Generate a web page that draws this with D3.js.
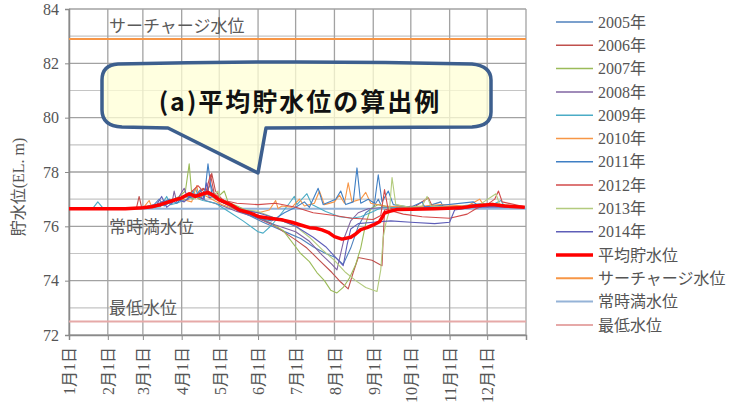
<!DOCTYPE html>
<html>
<head>
<meta charset="utf-8">
<script src="https://cdn.jsdelivr.net/npm/d3@7/dist/d3.min.js"></script>
<style>
  html, body { margin: 0; padding: 0; background: #fff; }
  svg { display: block; }
</style>
</head>
<body>
<svg id="chart" width="755" height="403"></svg>
<script>
// ---- data: daily reservoir level (EL. m), key readings per year ----
const years = ["2005年","2006年","2007年","2008年","2009年","2010年","2011年","2012年","2013年","2014年"];

const level2005 = [["1/1",76.65],["2/20",76.66],["3/3",76.72],["3/10",76.8],["3/14",77.0],["3/18",76.75],["3/25",76.95],["4/1",77.05],["4/5",76.95],["4/10",77.3],["4/14",77.05],["4/20",77.2],["4/24",77.55],["4/28",77.0],["5/5",76.85],["5/15",76.6],["5/25",76.4],["6/5",76.15],["6/15",75.95],["6/25",75.75],["7/5",75.55],["7/15",75.25],["7/25",75.0],["8/2",74.85],["8/8",74.6],["8/14",75.2],["8/20",76.0],["8/26",76.5],["9/1",76.7],["9/5",77.0],["9/8",76.7],["9/20",76.72],["10/10",76.68],["10/25",76.9],["10/27",76.7],["11/1",76.7],["11/20",76.72],["12/5",76.8],["12/15",76.72],["12/31",76.7]];
const level2006 = [["1/1",76.65],["2/20",76.65],["2/24",76.7],["2/26",77.1],["2/28",76.7],["3/10",76.72],["3/20",76.85],["3/28",77.0],["4/5",77.15],["4/12",77.05],["4/18",77.4],["4/22",77.3],["4/25",77.95],["4/28",77.3],["5/3",77.0],["5/10",76.8],["5/20",76.6],["6/1",76.3],["6/15",76.0],["7/1",75.5],["7/10",75.2],["7/20",74.75],["7/30",74.3],["8/6",73.95],["8/12",73.7],["8/16",74.3],["8/20",74.85],["8/26",74.8],["8/31",74.75],["9/8",74.55],["9/10",76.6],["9/20",76.7],["10/5",76.75],["10/15",77.05],["10/18",76.75],["11/10",76.7],["12/1",76.75],["12/31",76.7]];
const level2007 = [["1/1",76.65],["3/1",76.66],["3/12",76.75],["3/22",76.9],["3/30",77.1],["4/4",77.3],["4/7",78.3],["4/9",77.2],["4/15",77.0],["4/20",77.25],["4/28",77.0],["5/5",77.3],["5/8",76.9],["5/20",76.65],["6/1",76.35],["6/12",76.1],["6/21",75.85],["7/5",75.0],["7/12",74.7],["7/18",74.3],["7/24",74.0],["7/29",73.65],["8/3",73.55],["8/8",73.75],["8/13",74.1],["8/18",74.6],["8/22",75.2],["8/26",76.1],["8/30",76.65],["9/5",76.8],["9/15",76.7],["10/10",76.68],["11/15",76.72],["12/5",76.85],["12/31",76.7]];
const level2008 = [["1/1",76.65],["3/1",76.66],["3/10",76.75],["3/18",76.95],["3/24",76.8],["3/26",77.3],["3/28",76.9],["3/30",77.1],["4/3",77.4],["4/6",77.0],["4/14",77.15],["4/20",76.95],["5/1",76.8],["5/15",76.55],["6/1",76.3],["6/15",76.05],["7/1",75.8],["7/12",75.45],["7/22",74.95],["7/30",74.6],["8/3",74.4],["8/6",75.0],["8/9",75.6],["8/14",76.2],["8/20",76.5],["8/28",76.65],["9/10",76.7],["10/10",76.7],["11/10",76.68],["12/10",76.75],["12/31",76.7]];
const level2009 = [["1/1",76.65],["1/20",76.66],["1/24",76.9],["1/28",76.68],["3/1",76.65],["3/15",76.72],["3/20",77.1],["3/23",76.8],["3/28",76.85],["4/8",77.05],["4/12",77.4],["4/15",77.0],["4/18",76.95],["4/28",76.85],["5/10",76.5],["5/20",76.2],["6/1",75.8],["6/5",75.75],["6/12",76.05],["6/20",76.5],["6/26",76.85],["6/30",77.1],["7/2",76.8],["7/10",77.2],["7/14",76.8],["7/25",76.55],["8/5",76.35],["8/15",76.3],["8/22",76.35],["9/1",76.55],["9/8",76.7],["10/1",76.7],["11/1",76.7],["11/28",76.85],["12/2",76.72],["12/12",76.95],["12/15",76.72],["12/31",76.7]];
const level2010 = [["1/1",76.65],["3/1",76.66],["3/6",76.95],["3/8",76.72],["3/12",76.75],["3/22",76.9],["4/1",77.0],["4/9",76.9],["4/13",77.5],["4/15",77.0],["4/17",77.2],["4/25",77.0],["5/3",76.8],["5/15",76.6],["6/1",76.5],["6/10",76.6],["6/15",76.95],["6/17",76.65],["6/20",76.75],["6/28",76.7],["7/4",77.0],["7/8",76.75],["7/16",76.85],["7/20",77.3],["7/24",76.8],["8/1",76.9],["8/5",77.15],["8/9",76.85],["8/12",77.6],["8/15",76.9],["8/22",77.0],["8/26",77.25],["8/30",76.85],["9/10",76.75],["10/1",76.7],["10/25",76.8],["11/15",76.75],["11/25",77.0],["11/28",76.8],["12/3",76.85],["12/20",76.75],["12/31",76.7]];
const level2011 = [["1/1",76.65],["3/1",76.66],["3/14",76.8],["3/22",77.0],["3/28",76.85],["4/4",77.15],["4/10",77.0],["4/16",77.35],["4/19",77.0],["4/22",78.3],["4/25",77.2],["5/2",76.95],["5/15",76.6],["6/1",76.3],["6/12",76.2],["6/22",76.5],["7/1",76.7],["7/8",76.9],["7/12",76.7],["7/19",77.4],["7/23",76.8],["8/2",77.0],["8/6",77.3],["8/10",76.8],["8/16",76.9],["8/19",78.15],["8/22",76.85],["8/28",77.0],["9/2",76.85],["9/5",77.9],["9/8",76.9],["9/13",77.3],["9/17",76.8],["10/1",76.7],["10/10",76.9],["10/12",76.72],["10/20",76.75],["11/20",76.9],["11/24",76.75],["12/31",76.7]];
const level2012 = [["1/1",76.65],["3/1",76.66],["3/15",76.75],["3/26",76.95],["4/5",77.1],["4/14",77.5],["4/20",77.2],["4/24",77.9],["4/27",77.2],["5/5",76.95],["5/15",76.85],["6/1",76.8],["6/15",76.85],["7/1",76.7],["7/15",76.5],["8/1",76.4],["8/15",76.3],["9/1",76.25],["9/7",76.4],["9/10",77.35],["9/13",76.6],["9/25",76.45],["10/10",76.35],["11/1",76.3],["11/15",76.45],["11/22",76.65],["12/1",76.8],["12/7",77.0],["12/10",77.3],["12/13",76.9],["12/31",76.72]];
const level2013 = [["1/1",76.65],["3/1",76.66],["3/15",76.8],["3/25",76.95],["4/2",77.1],["4/10",77.0],["4/18",77.2],["4/26",77.1],["4/30",77.3],["5/2",76.95],["5/15",76.65],["6/1",76.55],["6/15",76.3],["7/1",76.0],["7/12",75.6],["7/22",75.15],["8/1",74.75],["8/10",74.3],["8/18",74.0],["8/26",73.75],["9/4",73.6],["9/7",74.4],["9/9",75.6],["9/11",76.1],["9/14",76.6],["9/16",77.8],["9/19",76.8],["9/30",76.7],["10/10",76.75],["10/14",77.1],["10/17",76.75],["11/10",76.7],["11/25",76.8],["12/8",77.2],["12/11",76.8],["12/31",76.72]];
const level2014 = [["1/1",76.65],["3/1",76.66],["3/12",76.8],["3/16",77.1],["3/20",76.7],["3/28",77.0],["4/3",76.9],["4/10",77.2],["4/18",77.0],["4/21",77.6],["4/23",77.05],["4/26",77.1],["5/5",76.85],["5/20",76.6],["6/1",76.5],["6/15",76.3],["7/1",76.0],["7/15",75.6],["7/25",75.25],["8/3",74.8],["8/8",74.55],["8/11",75.3],["8/14",75.9],["8/20",76.1],["9/1",76.15],["9/15",76.2],["10/1",76.15],["10/20",76.1],["11/1",76.15],["11/5",76.6],["11/20",76.7],["12/31",76.7]];

const levelAverage = [["1/1",76.65],["2/15",76.65],["3/1",76.68],["3/8",76.72],["3/15",76.8],["3/25",76.95],["4/1",77.05],["4/7",77.2],["4/12",77.1],["4/17",77.18],["4/22",77.25],["4/26",77.15],["5/1",76.97],["5/10",76.8],["5/17",76.6],["5/25",76.5],["6/2",76.35],["6/10",76.3],["6/21",76.23],["6/28",76.15],["7/5",76.05],["7/12",75.95],["7/17",75.93],["7/22",75.87],["7/27",75.78],["8/1",75.62],["8/7",75.53],["8/14",75.6],["8/18",75.72],["8/22",75.88],["8/27",75.95],["9/1",76.05],["9/6",76.17],["9/8",76.32],["9/10",76.49],["9/14",76.55],["9/20",76.62],["10/1",76.63],["10/20",76.65],["11/10",76.68],["11/20",76.75],["12/5",76.8],["12/15",76.75],["12/31",76.7]];

const yearSeries = [level2005, level2006, level2007, level2008, level2009, level2010, level2011, level2012, level2013, level2014];
const yearColors = ["#4F81BD","#C0504D","#9BBB59","#8064A2","#4BACC6","#F79646","#3F7FC4","#D24A4A","#B3CB7E","#5E5EB8"];

// reference levels
const surchargeLevel = 82.9;
const normalFullLevel = 76.65;
const minimumLevel = 72.5;

const yTicks = [72, 74, 76, 78, 80, 82, 84];
const yMinorTicks = [73, 75, 77, 79, 81, 83];
const monthTicks = ["1/1","2/1","3/1","4/1","5/1","6/1","7/1","8/1","9/1","10/1","11/1","12/1"];
const monthLabels = ["1月1日","2月1日","3月1日","4月1日","5月1日","6月1日","7月1日","8月1日","9月1日","10月1日","11月1日","12月1日"];

const legendLabels = years.concat(["平均貯水位","サーチャージ水位","常時満水位","最低水位"]);

// ---- drawing ----
const parseMD = d3.timeParse("%m/%d");
const svg = d3.select("#chart");
const plot = { left: 69, right: 526, top: 9, bottom: 335 };

const x = d3.scaleTime()
  .domain([parseMD("1/1"), d3.timeDay.offset(parseMD("12/31"), 1)])
  .range([plot.left, plot.right]);
const y = d3.scaleLinear().domain([72, 84]).range([plot.bottom, plot.top]);

const serif = '"Liberation Serif", "DejaVu Serif", "Noto Sans CJK JP", serif';
const textColor = "#555";

// grid
const grid = svg.append("g");
grid.selectAll("line.minor").data(yMinorTicks).join("line")
  .attr("x1", plot.left).attr("x2", plot.right)
  .attr("y1", d => y(d)).attr("y2", d => y(d))
  .attr("stroke", "#c4c4c4").attr("stroke-width", 1.2);
grid.selectAll("line.major").data(yTicks).join("line")
  .attr("x1", plot.left).attr("x2", plot.right)
  .attr("y1", d => y(d)).attr("y2", d => y(d))
  .attr("stroke", "#a2a2a2").attr("stroke-width", 1.3);
grid.selectAll("line.v").data(monthTicks.map(parseMD).concat([x.domain()[1]])).join("line")
  .attr("x1", d => x(d)).attr("x2", d => x(d))
  .attr("y1", plot.top).attr("y2", plot.bottom)
  .attr("stroke", "#a2a2a2").attr("stroke-width", 1.3);

// axes
const yAxis = svg.append("g").attr("transform", `translate(${plot.left},0)`)
  .call(d3.axisLeft(y).tickValues(yTicks).tickSize(4).tickPadding(6).tickFormat(d3.format("d")));
yAxis.select(".domain").attr("stroke", "#8a8a8a").attr("stroke-width", 1.5);
yAxis.selectAll(".tick line").attr("stroke", "#8a8a8a");
yAxis.selectAll("text").attr("font-family", serif).attr("font-size", 16).attr("fill", textColor);

const xAxis = svg.append("g").attr("transform", `translate(0,${plot.bottom})`)
  .call(d3.axisBottom(x).tickValues(monthTicks.map(parseMD)).tickSize(5)
    .tickFormat((d, i) => monthLabels[i]));
xAxis.select(".domain").attr("stroke", "#8a8a8a").attr("stroke-width", 1.5);
xAxis.selectAll(".tick line").attr("stroke", "#8a8a8a");
xAxis.selectAll("text")
  .attr("font-family", serif).attr("font-size", 16).attr("fill", textColor)
  .attr("transform", "rotate(-90)")
  .attr("text-anchor", "end")
  .attr("x", -12).attr("y", 0).attr("dy", "0.36em");

// y axis title
svg.append("text")
  .attr("transform", `translate(24,${(plot.top + plot.bottom) / 2 + 15}) rotate(-90)`)
  .attr("text-anchor", "middle")
  .attr("font-family", serif).attr("font-size", 16).attr("fill", textColor)
  .text("貯水位(EL. m)");

// reference levels
const refs = [
  { v: surchargeLevel, color: "#F79646", label: "サーチャージ水位", ly: -7 },
  { v: normalFullLevel, color: "#95B3D7", label: "常時満水位", ly: 24 },
  { v: minimumLevel, color: "#E6A9A8", label: "最低水位", ly: -7 }
];
svg.append("g").selectAll("line").data(refs).join("line")
  .attr("x1", plot.left).attr("x2", plot.right)
  .attr("y1", d => y(d.v)).attr("y2", d => y(d.v))
  .attr("stroke", d => d.color).attr("stroke-width", 2);
svg.append("g").selectAll("text").data(refs).join("text")
  .attr("x", 109).attr("y", d => y(d.v) + d.ly)
  .attr("font-family", serif).attr("font-size", 17).attr("fill", "#5a5a5a")
  .text(d => d.label);

// yearly traces
const line = d3.line().x(d => x(parseMD(d[0]))).y(d => y(d[1]));
svg.append("g").selectAll("path").data(yearSeries).join("path")
  .attr("d", line)
  .attr("fill", "none")
  .attr("stroke", (d, i) => yearColors[i])
  .attr("stroke-width", 1.1)
  .attr("stroke-linejoin", "round");

// average
svg.append("path").attr("d", line(levelAverage))
  .attr("fill", "none").attr("stroke", "#FF0000").attr("stroke-width", 3.5)
  .attr("stroke-linejoin", "round");

// callout bubble
const bubble = svg.append("g");
bubble.append("path")
  .attr("d", "M118,64 Q300,60 472,64 Q491,66 491,80 L491,112 Q491,126 472,127 L266,128 L258,173 L168,128 L122,127 Q102,126 102,110 L102,80 Q102,65 118,64 Z")
  .attr("fill", "#FFFFD6").attr("fill-opacity", 0.75)
  .attr("stroke", "#3D5F8E").attr("stroke-width", 3.5)
  .attr("stroke-linejoin", "round");
bubble.append("text")
  .attr("x", 300).attr("y", 111)
  .attr("text-anchor", "middle")
  .attr("font-family", '"Noto Sans CJK JP", sans-serif')
  .attr("font-weight", "bold").attr("font-size", 25)
  .attr("letter-spacing", 2)
  .attr("fill", "#111")
  .text("(a)平均貯水位の算出例");

// legend
const legendStyles = yearColors.map(c => ({ c, w: 1.5 }))
  .concat([{ c: "#FF0000", w: 3.5 }, { c: "#F79646", w: 2 }, { c: "#95B3D7", w: 2 }, { c: "#E6A9A8", w: 2 }]);
const legend = svg.append("g");
const rows = legend.selectAll("g").data(legendLabels).join("g")
  .attr("transform", (d, i) => `translate(556,${22 + i * 23.3})`);
rows.append("line").attr("x1", 0).attr("x2", 37)
  .attr("stroke", (d, i) => legendStyles[i].c)
  .attr("stroke-width", (d, i) => legendStyles[i].w);
rows.append("text").attr("x", 42).attr("dy", "0.35em")
  .attr("font-family", serif).attr("font-size", 16).attr("fill", textColor)
  .text(d => d);
</script>
</body>
</html>
